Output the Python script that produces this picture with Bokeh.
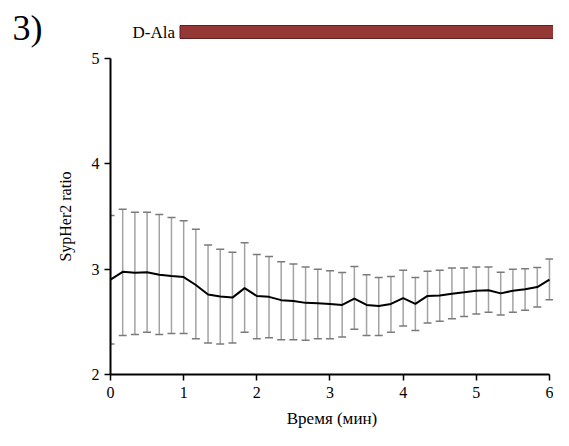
from bokeh.plotting import figure
from bokeh.models import ColumnDataSource, Whisker, TeeHead, Label, Range1d, FixedTicker
from bokeh.layouts import column
from bokeh.embed import file_html
from bokeh.resources import INLINE

# ---- data ----
time_s = [0, 10, 20, 30, 40, 50, 60, 70, 80, 90, 100, 110, 120,
          130, 140, 150, 160, 170, 180, 190, 200, 210, 220, 230, 240,
          250, 260, 270, 280, 290, 300, 310, 320, 330, 340, 350, 360]
ratio_mean = [2.90, 2.975, 2.965, 2.97, 2.947, 2.934, 2.925, 2.85, 2.76, 2.74, 2.73, 2.82, 2.745,
              2.737, 2.706, 2.697, 2.68, 2.676, 2.67, 2.66, 2.72, 2.66, 2.65, 2.67, 2.725,
              2.67, 2.746, 2.75, 2.767, 2.78, 2.795, 2.80, 2.77, 2.795, 2.81, 2.83, 2.90]
ratio_upper = [3.51, 3.57, 3.54, 3.54, 3.52, 3.49, 3.46, 3.38, 3.23, 3.19, 3.16, 3.25, 3.14,
               3.12, 3.07, 3.05, 3.02, 3.00, 2.986, 2.968, 3.025, 2.947, 2.92, 2.93, 2.99,
               2.92, 2.98, 2.99, 3.01, 3.01, 3.02, 3.02, 2.97, 3.00, 3.005, 3.015, 3.096]
ratio_lower = [2.29, 2.37, 2.38, 2.40, 2.38, 2.39, 2.39, 2.34, 2.30, 2.29, 2.30, 2.40, 2.34,
               2.35, 2.33, 2.33, 2.326, 2.34, 2.34, 2.355, 2.43, 2.37, 2.37, 2.40, 2.46,
               2.417, 2.49, 2.505, 2.53, 2.55, 2.575, 2.59, 2.566, 2.59, 2.61, 2.64, 2.71]
x_ticks = [0, 1, 2, 3, 4, 5, 6]
y_ticks = [2, 3, 4, 5]
stim_label = "D-Ala"
stim_start = 0.95
stim_end = 6.06
panel_label = "3)"

time_min = [s / 60 for s in time_s]
src = ColumnDataSource(dict(t=time_min, m=ratio_mean, up=ratio_upper, lo=ratio_lower))

SERIF = "Liberation Serif"
W = 553
LEFT = 110
X_END = 6.055
TOP_H = 48
MAIN_H = 430 - TOP_H
xr = Range1d(0, X_END)

# ---- top strip: panel tag (as its left-axis label) + stimulus bar ----
top = figure(width=W, height=TOP_H, output_backend="svg", toolbar_location=None,
             x_range=xr, y_range=Range1d(0, TOP_H - 6), x_axis_type=None,
             min_border_left=LEFT, min_border_right=0, min_border_top=6, min_border_bottom=0)
top.xgrid.visible = False
top.ygrid.visible = False
top.outline_line_color = None
top.quad(left=stim_start, right=stim_end, bottom=10, top=23,
         fill_color="#953735", line_color="#5e1f1e", line_width=1)
top.add_layout(Label(x=stim_start, y=16.5, x_offset=-5, text=stim_label,
                     text_align="right", text_baseline="middle",
                     text_font=SERIF, text_font_size="17px", text_color="black"))
ya = top.yaxis[0]
ya.ticker = FixedTicker(ticks=[])
ya.axis_line_color = None
ya.major_tick_line_color = None
ya.minor_tick_line_color = None
ya.major_label_text_font_size = "0px"
ya.major_label_standoff = 0
ya.axis_label = panel_label
ya.axis_label_orientation = "horizontal"
ya.axis_label_standoff = 68
ya.axis_label_text_font = SERIF
ya.axis_label_text_font_size = "36px"
ya.axis_label_text_font_style = "normal"
ya.axis_label_text_color = "black"

# ---- main plot ----
p = figure(width=W, height=MAIN_H, output_backend="svg", toolbar_location=None,
           x_range=xr, y_range=Range1d(2, 5.0),
           min_border_left=LEFT, min_border_right=0, min_border_top=10, min_border_bottom=50)
p.xgrid.visible = False
p.ygrid.visible = False
p.outline_line_color = None

wh = Whisker(source=src, base="t", upper="up", lower="lo", dimension="height",
             line_color="#a3a3a3", line_width=1.5,
             upper_head=TeeHead(size=8, line_color="#7a7a7a", line_width=1.5),
             lower_head=TeeHead(size=8, line_color="#7a7a7a", line_width=1.5))
p.add_layout(wh)
p.line("t", "m", source=src, line_color="black", line_width=2)

p.xaxis.bounds = (0, 6)
p.yaxis.bounds = (2, 5)
p.xaxis.ticker = FixedTicker(ticks=x_ticks)
p.yaxis.ticker = FixedTicker(ticks=y_ticks)
for ax in (p.xaxis, p.yaxis):
    ax.axis_line_color = "black"
    ax.axis_line_width = 2
    ax.major_tick_line_color = "black"
    ax.major_tick_line_width = 1.5
    ax.major_tick_out = 6
    ax.major_tick_in = 0
    ax.minor_tick_line_color = None
    ax.major_label_text_font = SERIF
    ax.major_label_text_font_size = "16px"
    ax.major_label_text_color = "black"
    ax.axis_label_text_font = SERIF
    ax.axis_label_text_font_style = "normal"
    ax.axis_label_text_color = "black"
p.xaxis.axis_label = "Время (мин)"
p.yaxis.axis_label = "SypHer2 ratio"
p.xaxis.axis_label_text_font_size = "17px"
p.yaxis.axis_label_text_font_size = "16px"
p.xaxis.major_label_standoff = 6
p.yaxis.major_label_standoff = 5
p.xaxis.axis_label_standoff = 8
p.yaxis.axis_label_standoff = 15

layout = column(top, p, spacing=0)
open("out.html", "w").write(file_html(layout, INLINE))
